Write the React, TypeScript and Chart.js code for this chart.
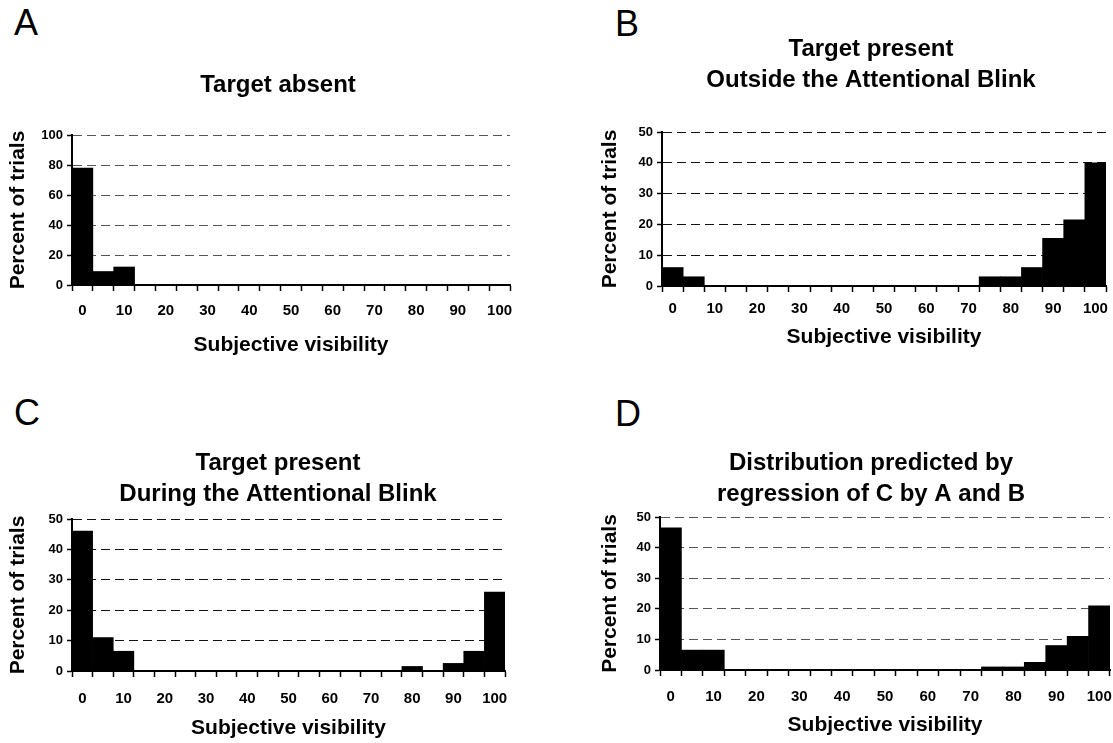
import React, { useEffect, useRef } from 'react';
import { Chart, registerables } from 'chart.js';

Chart.register(...registerables);

const FONT = '"Liberation Sans", Arial, Helvetica, sans-serif';
Chart.defaults.font.family = FONT;
Chart.defaults.color = '#000';

// Bin centres of the subjective visibility scale (0..100, step 5)
const visibilityBins = ['0', '5', '10', '15', '20', '25', '30', '35', '40', '45', '50', '55', '60', '65', '70', '75', '80', '85', '90', '95', '100'];

// Percent of trials per bin
const targetAbsent = [78, 9, 12, 0, 0, 0, 0, 0, 0, 0, 0, 0, 0, 0, 0, 0, 0, 0, 0, 0, 0];
const outsideBlink = [6, 3, 0, 0, 0, 0, 0, 0, 0, 0, 0, 0, 0, 0, 0, 3, 3, 6, 15.5, 21.5, 40];
const duringBlink = [46, 11, 6.5, 0, 0, 0, 0, 0, 0, 0, 0, 0, 0, 0, 0, 0, 1.5, 0, 2.5, 6.5, 26];
const predictedByRegression = [46.5, 6.5, 6.5, 0, 0, 0, 0, 0, 0, 0, 0, 0, 0, 0, 0, 1, 1, 2.5, 8, 11, 21];

const titleA = ['Target absent'];
const titleB = ['Target present', 'Outside the Attentional Blink'];
const titleC = ['Target present', 'During the Attentional Blink'];
const titleD = ['Distribution predicted by', 'regression of C by A and B'];

const xAxisTitle = 'Subjective visibility';
const yAxisTitle = 'Percent of trials';

type Box = { left: number; top: number; width: number; height: number };
type Plot = { left: number; right: number; top: number; bottom: number };

type PanelProps = {
  letter: string;
  letterPos: { left: number; top: number };
  title: string[];
  data: number[];
  yMax: number;
  yStep: number;
  box: Box;
  plot: Plot;
  titleY: number;
  labelY: number;
  xTitleY: number;
  yTitleX: number;
  gridColor: string;
};

const TITLE_SIZE = 24;
const TITLE_LH = 1.3;
const AXIS_TITLE_SIZE = 21;
const X_TICK_SIZE = 15;
const Y_TICK_SIZE = 13;

function Panel(p: PanelProps) {
  const ref = useRef<HTMLCanvasElement>(null);

  useEffect(() => {
    if (!ref.current) return;
    const lh = TITLE_SIZE * TITLE_LH;
    const tPadTop = p.titleY - p.box.top - lh / 2;
    const tPadBottom = p.plot.top - p.box.top - tPadTop - lh * p.title.length;
    const axLh = AXIS_TITLE_SIZE * 1.2;
    const xAxisHeight = p.box.top + p.box.height - p.plot.bottom;
    const xTitlePadB = p.box.top + p.box.height - p.xTitleY - axLh / 2;
    const yAxisWidth = p.plot.left - p.box.left;
    const yTitlePad = p.yTitleX - p.box.left - axLh / 2;
    const rightWidth = p.box.left + p.box.width - p.plot.right;
    const xTickLen = 6;
    const xLabelPad = p.labelY - p.plot.bottom - xTickLen - (X_TICK_SIZE * 1.2) / 2;

    const chart = new Chart(ref.current, {
      type: 'bar',
      data: {
        labels: visibilityBins,
        datasets: [
          {
            data: p.data,
            backgroundColor: '#000',
            borderWidth: 0,
            categoryPercentage: 1,
            barPercentage: 1,
          },
        ],
      },
      options: {
        responsive: false,
        animation: false,
        events: [],
        layout: { padding: 0 },
        plugins: {
          legend: { display: false },
          tooltip: { enabled: false },
          title: {
            display: true,
            text: p.title,
            color: '#000',
            font: { size: TITLE_SIZE, weight: 'bold', lineHeight: TITLE_LH },
            padding: { top: tPadTop, bottom: tPadBottom },
          },
        },
        scales: {
          x: {
            type: 'category',
            offset: true,
            grid: {
              display: true,
              offset: true,
              drawOnChartArea: false,
              drawTicks: true,
              tickLength: xTickLen,
              tickColor: '#000',
              tickWidth: 1.5,
            },
            border: { display: true, color: '#000', width: 2 },
            ticks: {
              autoSkip: false,
              maxRotation: 0,
              minRotation: 0,
              padding: xLabelPad,
              font: { size: X_TICK_SIZE, weight: 'bold' },
              color: '#000',
              callback: function (this: any, value: any, index: number) {
                return index % 2 === 0 ? this.getLabelForValue(value) : '';
              },
            },
            title: {
              display: true,
              text: xAxisTitle,
              color: '#000',
              font: { size: AXIS_TITLE_SIZE, weight: 'bold' },
              padding: { top: 0, bottom: xTitlePadB },
            },
            afterFit: (s: any) => {
              s.height = xAxisHeight;
            },
          },
          y: {
            type: 'linear',
            min: 0,
            max: p.yMax,
            grid: {
              color: (ctx: any) => (ctx.tick && ctx.tick.value === 0 ? 'rgba(0,0,0,0)' : p.gridColor),
              lineWidth: 1,
              drawTicks: true,
              tickLength: 5,
              tickColor: '#000',
              tickWidth: 1.5,
            },
            border: { display: true, color: '#000', width: 2, dash: [9, 5] },
            ticks: {
              stepSize: p.yStep,
              padding: 4,
              font: { size: Y_TICK_SIZE, weight: 'bold' },
              color: '#000',
            },
            title: {
              display: true,
              text: yAxisTitle,
              color: '#000',
              font: { size: AXIS_TITLE_SIZE, weight: 'bold' },
              padding: { top: yTitlePad, bottom: 0 },
            },
            afterFit: (s: any) => {
              s.width = yAxisWidth;
            },
          },
          yRight: {
            type: 'linear',
            position: 'right',
            display: true,
            grid: { display: false, drawTicks: false },
            border: { display: false },
            ticks: { display: false },
            afterFit: (s: any) => {
              s.width = rightWidth;
            },
          },
        },
      },
    } as any);
    return () => chart.destroy();
  }, []);

  return (
    <>
      <div
        style={{
          position: 'absolute',
          left: p.letterPos.left,
          top: p.letterPos.top,
          fontFamily: FONT,
          fontSize: 36,
          lineHeight: '36px',
          color: '#000',
        }}
      >
        {p.letter}
      </div>
      <canvas
        ref={ref}
        width={p.box.width}
        height={p.box.height}
        style={{
          position: 'absolute',
          left: p.box.left,
          top: p.box.top,
          width: p.box.width,
          height: p.box.height,
        }}
      />
    </>
  );
}

export default function App() {
  return (
    <div
      style={{
        position: 'absolute',
        left: 0,
        top: 0,
        width: 1113,
        height: 743,
        overflow: 'hidden',
        background: '#fff',
      }}
    >
      <Panel
        letter="A"
        letterPos={{ left: 14, top: 5 }}
        title={titleA}
        data={targetAbsent}
        yMax={100}
        yStep={20}
        box={{ left: 0, top: 0, width: 556, height: 362 }}
        plot={{ left: 72, right: 510, top: 135, bottom: 285 }}
        titleY={85}
        labelY={311}
        xTitleY={345}
        yTitleX={18}
        gridColor="#555"
      />
      <Panel
        letter="B"
        letterPos={{ left: 615, top: 6 }}
        title={titleB}
        data={outsideBlink}
        yMax={50}
        yStep={10}
        box={{ left: 556, top: 0, width: 630, height: 362 }}
        plot={{ left: 662, right: 1106, top: 132, bottom: 286 }}
        titleY={49}
        labelY={309}
        xTitleY={337}
        yTitleX={610}
        gridColor="#111"
      />
      <Panel
        letter="C"
        letterPos={{ left: 14, top: 395 }}
        title={titleC}
        data={duringBlink}
        yMax={50}
        yStep={10}
        box={{ left: 0, top: 380, width: 556, height: 363 }}
        plot={{ left: 72, right: 505, top: 519, bottom: 671 }}
        titleY={463}
        labelY={699}
        xTitleY={728}
        yTitleX={18}
        gridColor="#111"
      />
      <Panel
        letter="D"
        letterPos={{ left: 615, top: 396 }}
        title={titleD}
        data={predictedByRegression}
        yMax={50}
        yStep={10}
        box={{ left: 556, top: 380, width: 630, height: 363 }}
        plot={{ left: 660, right: 1110, top: 517, bottom: 670 }}
        titleY={463}
        labelY={697}
        xTitleY={725}
        yTitleX={610}
        gridColor="#555"
      />
    </div>
  );
}
